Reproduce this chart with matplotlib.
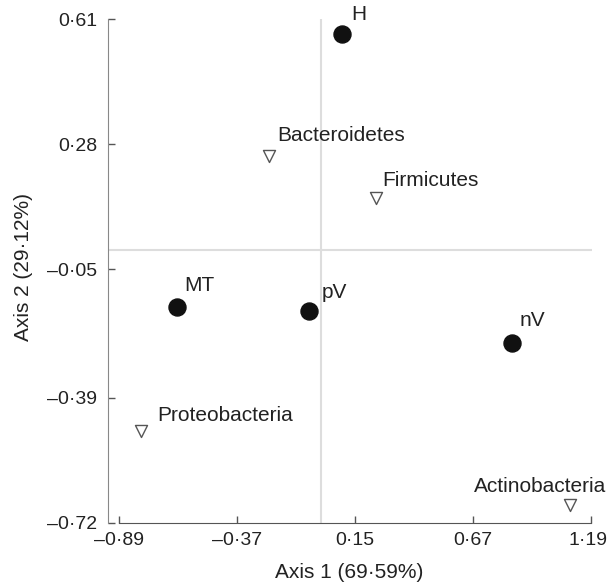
import matplotlib
matplotlib.use("Agg")
import matplotlib.pyplot as plt
import matplotlib.transforms as mtransforms

plt.rcParams['font.family'] = ['Liberation Sans', 'DejaVu Sans']

# sample scores (circles)
sample_names = ['H', 'MT', 'pV', 'nV']
sample_x = [0.091, -0.636, -0.051, 0.841]
sample_y = [0.571, -0.151, -0.160, -0.246]

# phylum scores (open triangles)
phylum_names = ['Bacteroidetes', 'Firmicutes', 'Proteobacteria', 'Actinobacteria']
phylum_x = [-0.229, 0.241, -0.793, 1.098]
phylum_y = [0.250, 0.137, -0.478, -0.673]

xticks = [-0.89, -0.37, 0.15, 0.67, 1.19]
yticks = [-0.72, -0.39, -0.05, 0.28, 0.61]
xticklabels = ['\u20130\u00b789', '\u20130\u00b737', '0\u00b715', '0\u00b767', '1\u00b719']
yticklabels = ['\u20130\u00b772', '\u20130\u00b739', '\u20130\u00b705', '0\u00b728', '0\u00b761']

fig = plt.figure(figsize=(6.08, 5.82), dpi=100)
ax = fig.add_axes([108/608, 59.3/582, 484/608, 503.4/582])

ax.axhline(0, color='#dddddd', lw=1.5, zorder=0)
ax.axvline(0, color='#dddddd', lw=1.5, zorder=0)

ax.scatter(sample_x, sample_y, s=150, color='#111111', zorder=3)
ax.scatter(phylum_x, phylum_y, s=75, marker='v', facecolor='white',
           edgecolor='#555555', linewidth=1, zorder=3)

# label offsets in pixels
sample_off = [(10, 20), (8, 22), (12, 18), (8, 23)]
phylum_off = [(8, 20), (6, 18), (16, 16), (-96, 18)]
for name, x, y, off in zip(sample_names, sample_x, sample_y, sample_off):
    ax.annotate(name, (x, y), xytext=off, textcoords='offset pixels',
                ha='left', va='center', fontsize=15, color='#222222',
                annotation_clip=False)
for name, x, y, off in zip(phylum_names, phylum_x, phylum_y, phylum_off):
    ax.annotate(name, (x, y), xytext=off, textcoords='offset pixels',
                ha='left', va='center', fontsize=15, color='#222222',
                annotation_clip=False)

ax.set_xlim(-0.9385, 1.1935)
ax.set_ylim(-0.72, 0.61)
ax.set_xticks(xticks)
ax.set_xticklabels(xticklabels)
ax.set_yticks(yticks)
ax.set_yticklabels(yticklabels)
ax.tick_params(direction='in', length=5, width=1, color='#555555',
               labelsize=14, labelcolor='#222222')
ax.tick_params(axis='x', pad=6.5)
ax.tick_params(axis='y', pad=8)

# nudge last x tick label so it stays inside the figure
last = ax.get_xticklabels()[-1]
last.set_transform(last.get_transform() +
                   mtransforms.ScaledTranslation(-3/100, 0, fig.dpi_scale_trans))

for side in ['top', 'right']:
    ax.spines[side].set_visible(False)
ax.spines['bottom'].set_bounds(-0.89, 1.19)
ax.spines['left'].set_bounds(-0.72, 0.61)
ax.spines['bottom'].set_color('#555555')
ax.spines['left'].set_color('#888888')

ax.set_xlabel('Axis 1 (69\u00b759%)', fontsize=15, color='#222222')
ax.set_ylabel('Axis 2 (29\u00b712%)', fontsize=15, color='#222222')
ax.xaxis.set_label_coords(0.498, -0.0999)
ax.xaxis.label.set_va('center')
ax.yaxis.set_label_coords(-0.1756, 0.507)
ax.yaxis.label.set_va('center')

fig.savefig('out.png', dpi=100)
